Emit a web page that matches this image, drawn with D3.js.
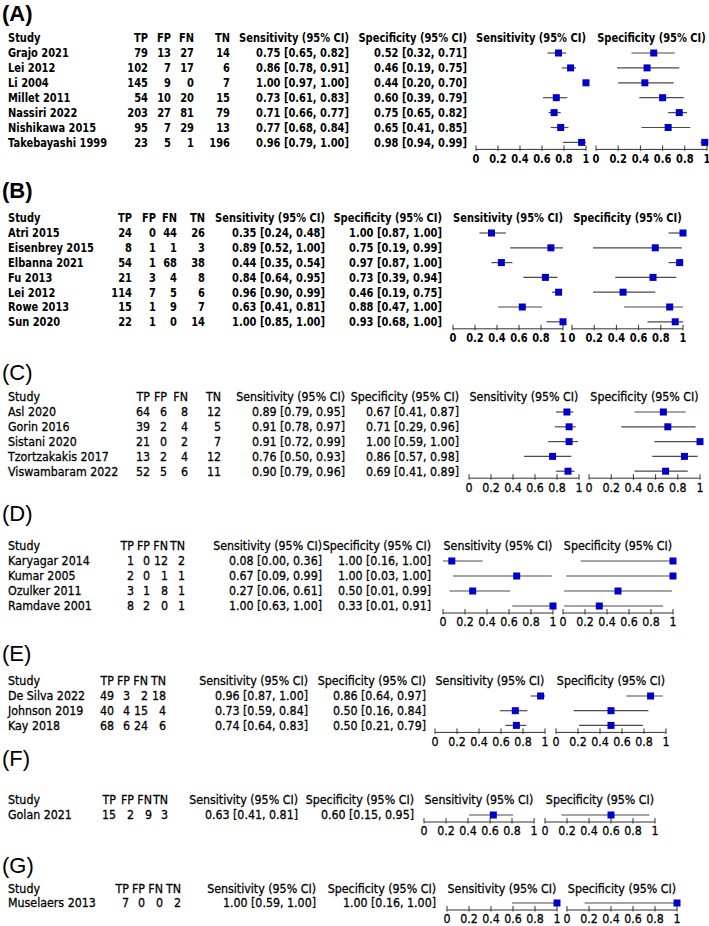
<!DOCTYPE html>
<html><head><meta charset="utf-8">
<script src="https://cdn.jsdelivr.net/npm/d3@7"></script>
<style>body{margin:0;background:#fff}svg{display:block}</style>
</head><body><svg id="chart" width="709" height="926"></svg>
<script>
// ---------- DATA ----------
const panelLabels = ["(A)", "(B)", "(C)", "(D)", "(E)", "(F)", "(G)"];
const columnHeaders = ["Study", "TP", "FP", "FN", "TN", "Sensitivity (95% CI)", "Specificity (95% CI)"];
const plotHeaders = ["Sensitivity (95% CI)", "Specificity (95% CI)"];
const tickValues = [0, 0.2, 0.4, 0.6, 0.8, 1];
const tickLabels = ["0", "0.2", "0.4", "0.6", "0.8", "1"];

const studiesA = ["Grajo 2021", "Lei 2012", "Li 2004", "Millet 2011", "Nassiri 2022", "Nishikawa 2015", "Takebayashi 1999"];
const countsA = [[79,13,27,14],[102,7,17,6],[145,9,0,7],[54,10,20,15],[203,27,81,79],[95,7,29,13],[23,5,1,196]];
const sensA = [[0.75,0.65,0.82],[0.86,0.78,0.91],[1.00,0.97,1.00],[0.73,0.61,0.83],[0.71,0.66,0.77],[0.77,0.68,0.84],[0.96,0.79,1.00]];
const specA = [[0.52,0.32,0.71],[0.46,0.19,0.75],[0.44,0.20,0.70],[0.60,0.39,0.79],[0.75,0.65,0.82],[0.65,0.41,0.85],[0.98,0.94,0.99]];

const studiesB = ["Atri 2015", "Eisenbrey 2015", "Elbanna 2021", "Fu 2013", "Lei 2012", "Rowe 2013", "Sun 2020"];
const countsB = [[24,0,44,26],[8,1,1,3],[54,1,68,38],[21,3,4,8],[114,7,5,6],[15,1,9,7],[22,1,0,14]];
const sensB = [[0.35,0.24,0.48],[0.89,0.52,1.00],[0.44,0.35,0.54],[0.84,0.64,0.95],[0.96,0.90,0.99],[0.63,0.41,0.81],[1.00,0.85,1.00]];
const specB = [[1.00,0.87,1.00],[0.75,0.19,0.99],[0.97,0.87,1.00],[0.73,0.39,0.94],[0.46,0.19,0.75],[0.88,0.47,1.00],[0.93,0.68,1.00]];

const studiesC = ["Asl 2020", "Gorin 2016", "Sistani 2020", "Tzortzakakis 2017", "Viswambaram 2022"];
const countsC = [[64,6,8,12],[39,2,4,5],[21,0,2,7],[13,2,4,12],[52,5,6,11]];
const sensC = [[0.89,0.79,0.95],[0.91,0.78,0.97],[0.91,0.72,0.99],[0.76,0.50,0.93],[0.90,0.79,0.96]];
const specC = [[0.67,0.41,0.87],[0.71,0.29,0.96],[1.00,0.59,1.00],[0.86,0.57,0.98],[0.69,0.41,0.89]];

const studiesD = ["Karyagar 2014", "Kumar 2005", "Ozulker 2011", "Ramdave 2001"];
const countsD = [[1,0,12,2],[2,0,1,1],[3,1,8,1],[8,2,0,1]];
const sensD = [[0.08,0.00,0.36],[0.67,0.09,0.99],[0.27,0.06,0.61],[1.00,0.63,1.00]];
const specD = [[1.00,0.16,1.00],[1.00,0.03,1.00],[0.50,0.01,0.99],[0.33,0.01,0.91]];

const studiesE = ["De Silva 2022", "Johnson 2019", "Kay 2018"];
const countsE = [[49,3,2,18],[40,4,15,4],[68,6,24,6]];
const sensE = [[0.96,0.87,1.00],[0.73,0.59,0.84],[0.74,0.64,0.83]];
const specE = [[0.86,0.64,0.97],[0.50,0.16,0.84],[0.50,0.21,0.79]];

const studiesF = ["Golan 2021"];
const countsF = [[15,2,9,3]];
const sensF = [[0.63,0.41,0.81]];
const specF = [[0.60,0.15,0.95]];

const studiesG = ["Muselaers 2013"];
const countsG = [[7,0,0,2]];
const sensG = [[1.00,0.59,1.00]];
const specG = [[1.00,0.16,1.00]];

// ---------- LAYOUT ----------
const layouts = [
  {bold:true,  titleY:13,  headerY:38,  row0:53,  step:14.9, cols:[148,171,194,230], sensR:349, specR:467, sx:[476,586], px:[596,707]},
  {bold:true,  titleY:190, headerY:218, row0:233, step:14.8, cols:[132,156,177,205], sensR:325, specR:442, sx:[453,563], px:[572,683]},
  {bold:false, titleY:372, headerY:397, row0:412, step:14.8, cols:[150,167,188,221], sensR:345, specR:459, sx:[469,579], px:[589,700]},
  {bold:false, titleY:513, headerY:546, row0:561, step:15,   cols:[134,150,168,185], sensR:322, specR:431, sx:[443,553], px:[563,673]},
  {bold:false, titleY:653, headerY:681, row0:696, step:14.7, cols:[114,130,148,166], sensR:308, specR:426, sx:[435,545], px:[556,666]},
  {bold:false, titleY:758, headerY:800, row0:815, step:15,   cols:[116,134,152,168], sensR:298, specR:414, sx:[424,534], px:[545,655]},
  {bold:false, titleY:865, headerY:889, row0:903, step:15,   cols:[129,145,163,181], sensR:316, specR:436, sx:[447,557], px:[567,677]}
];
const panelData = [
  [studiesA, countsA, sensA, specA],
  [studiesB, countsB, sensB, specB],
  [studiesC, countsC, sensC, specC],
  [studiesD, countsD, sensD, specD],
  [studiesE, countsE, sensE, specE],
  [studiesF, countsF, sensF, specF],
  [studiesG, countsG, sensG, specG]
];

const FAMILY = "'DejaVu Sans', 'Noto Sans', sans-serif";
const FS = 12.5;
const svg = d3.select("#chart");
const f2 = d3.format(".2f");
const ciText = v => `${f2(v[0])} [${f2(v[1])}, ${f2(v[2])}]`;

// horizontal squeeze so the header string has the reference width
function squeeze(weight, target) {
  const t = svg.append("text").attr("font-family", FAMILY).attr("font-weight", weight)
    .attr("font-size", FS).text(plotHeaders[0]);
  const w = t.node().getComputedTextLength();
  t.remove();
  return target / w;
}
const kBold = squeeze("bold", 110);
const kReg = squeeze("normal", 109);

function label(parent, x, y, s, anchor, k) {
  return parent.append("text")
    .attr("transform", `translate(${x},${y}) scale(${k},1)`)
    .attr("dy", "0.35em").attr("text-anchor", anchor).text(s);
}

layouts.forEach((L, pi) => {
  const [studies, counts, sens, spec] = panelData[pi];
  const weight = L.bold ? "bold" : "normal";
  const k = L.bold ? kBold : kReg;
  const g = svg.append("g")
    .attr("font-family", FAMILY).attr("font-weight", weight)
    .attr("font-size", FS).attr("fill", "#000");
  const tg = g.append("g");
  if (!L.bold) tg.attr("stroke", "#000").attr("stroke-width", 0.3);

  // panel title
  svg.append("text").attr("x", 2).attr("y", L.titleY).attr("dy", "0.35em")
    .attr("font-family", "'Liberation Sans', Arial, sans-serif")
    .attr("font-weight", L.bold ? "bold" : "normal").attr("font-size", 22)
    .text(panelLabels[pi]);

  // column headers
  const hx = [8, ...L.cols, L.sensR, L.specR];
  columnHeaders.forEach((h, i) => label(tg, hx[i], L.headerY, h, i === 0 ? "start" : "end", k));

  const sScale = d3.scaleLinear().domain([0, 1]).range(L.sx);
  const pScale = d3.scaleLinear().domain([0, 1]).range(L.px);
  [sScale, pScale].forEach((sc, j) =>
    label(tg, (sc.range()[0] + sc.range()[1]) / 2, L.headerY, plotHeaders[j], "middle", k));

  const yScale = d3.scaleLinear().domain([0, 1]).range([L.row0, L.row0 + L.step]);

  studies.forEach((s, r) => {
    const y = yScale(r);
    label(tg, 8, y, s, "start", k);
    counts[r].forEach((c, i) => label(tg, L.cols[i], y, c, "end", k));
    label(tg, L.sensR, y, ciText(sens[r]), "end", k);
    label(tg, L.specR, y, ciText(spec[r]), "end", k);

    [[sScale, sens[r]], [pScale, spec[r]]].forEach(([sc, v]) => {
      g.append("line").attr("x1", sc(v[1])).attr("x2", sc(v[2]))
        .attr("y1", y).attr("y2", y).attr("stroke", "#4a4a4a").attr("stroke-width", 1.2);
      g.append("rect").attr("x", sc(v[0]) - 3.5).attr("y", y - 3.5)
        .attr("width", 7).attr("height", 7).attr("fill", "#0000c8");
    });
  });

  // axes
  const axisY = yScale(studies.length - 1) + 7;
  [sScale, pScale].forEach(sc => {
    const ag = g.append("g").attr("transform", `translate(0,${axisY})`);
    ag.append("line").attr("x1", sc(0)).attr("x2", sc(1)).attr("stroke", "#333").attr("stroke-width", 1);
    const lg = ag.append("g");
    if (!L.bold) lg.attr("stroke", "#000").attr("stroke-width", 0.3);
    tickValues.forEach((t, i) => {
      ag.append("line").attr("x1", sc(t)).attr("x2", sc(t)).attr("y1", -4).attr("y2", 1.5)
        .attr("stroke", "#333").attr("stroke-width", 1);
      label(lg, sc(t), 9, tickLabels[i], "middle", k);
    });
  });
});
</script>
</body></html>
